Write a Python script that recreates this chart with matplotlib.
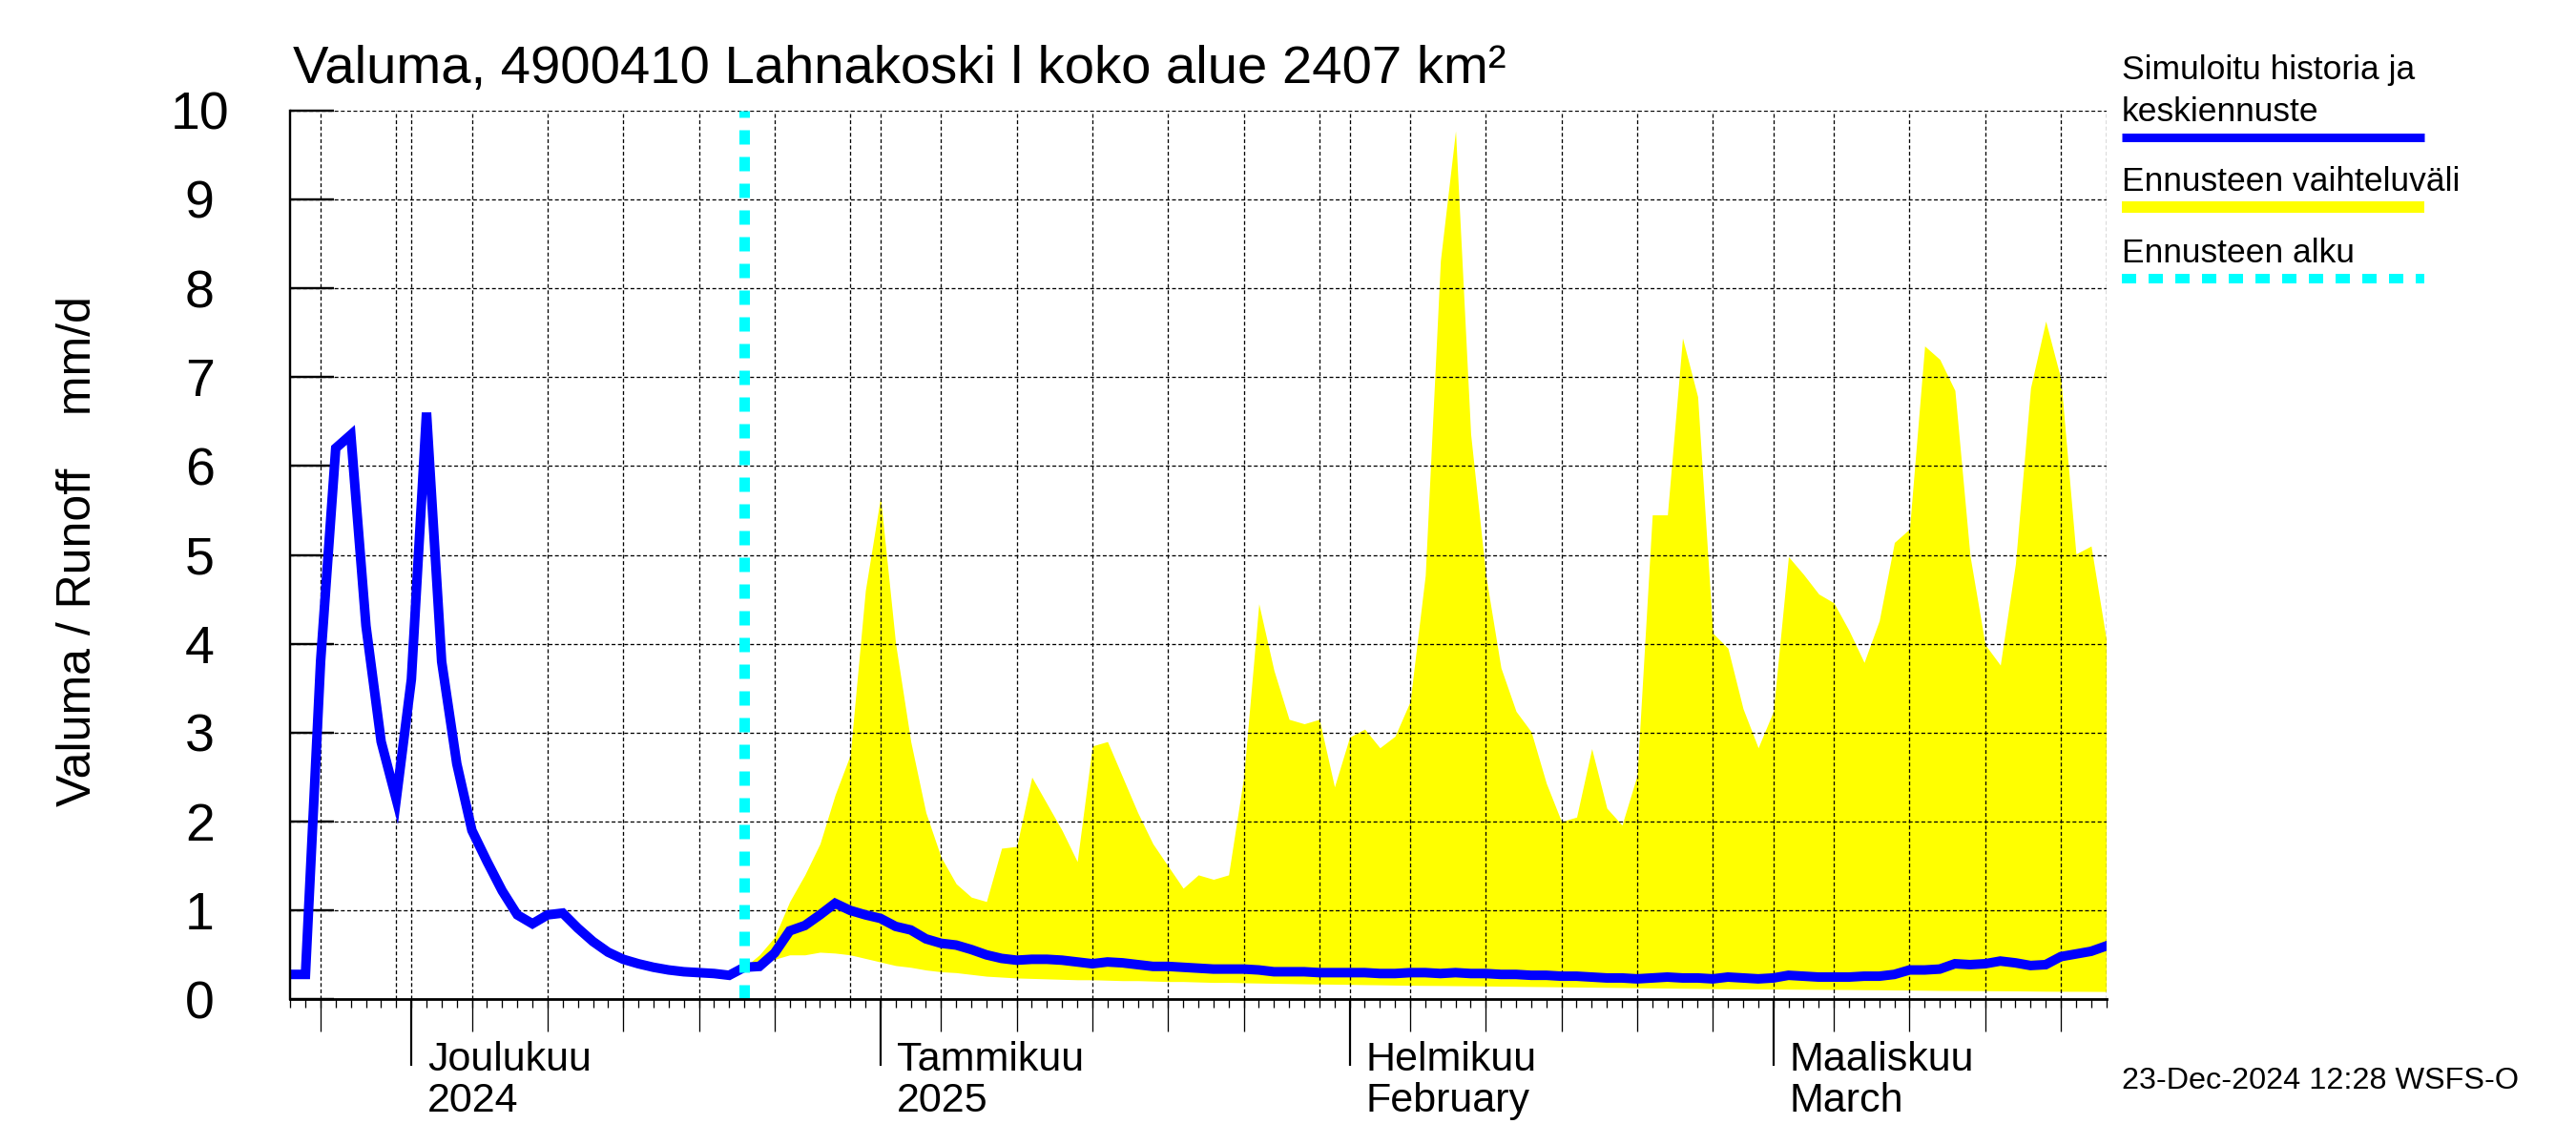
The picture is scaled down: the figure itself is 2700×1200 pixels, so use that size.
import datetime as dt
import matplotlib
matplotlib.use("Agg")
import matplotlib.pyplot as plt
import matplotlib.transforms as mtransforms
from matplotlib.lines import Line2D

plt.rcParams['font.family'] = ['Liberation Sans', 'DejaVu Sans']
plt.rcParams['lines.scale_dashes'] = False

# ---------------- data ----------------
start_date = dt.datetime(2024, 11, 23)
end_date = dt.datetime(2025, 3, 23)
forecast_start = dt.datetime(2024, 12, 23)

# simulated history + median forecast, daily from 23 Nov 2024
runoff_mean = [
    0.28, 0.28, 3.8, 6.2, 6.35, 4.2, 2.9, 2.25, 3.6, 6.6,
    3.8, 2.65, 1.9, 1.55, 1.22, 0.95, 0.85, 0.95, 0.97, 0.8,
    0.65, 0.53, 0.45, 0.40, 0.36, 0.33, 0.31, 0.30, 0.29, 0.27,
    0.36, 0.37, 0.52, 0.77, 0.83, 0.95, 1.08, 1.0, 0.95, 0.91,
    0.82, 0.78, 0.68, 0.63, 0.61, 0.56, 0.50, 0.46, 0.44, 0.45,
    0.45, 0.44, 0.42, 0.40, 0.42, 0.41, 0.39, 0.37, 0.37, 0.36,
    0.35, 0.34, 0.34, 0.34, 0.33, 0.31, 0.31, 0.31, 0.30, 0.30,
    0.30, 0.30, 0.29, 0.29, 0.30, 0.30, 0.29, 0.30, 0.29, 0.29,
    0.28, 0.28, 0.27, 0.27, 0.26, 0.26, 0.25, 0.24, 0.24, 0.23,
    0.24, 0.25, 0.24, 0.24, 0.23, 0.25, 0.24, 0.23, 0.24, 0.27,
    0.26, 0.25, 0.25, 0.25, 0.26, 0.26, 0.28, 0.33, 0.33, 0.34,
    0.40, 0.39, 0.40, 0.43, 0.41, 0.38, 0.39, 0.48, 0.51, 0.54,
    0.60,
]

# forecast range, daily from 23 Dec 2024
band_high = [
    0.36, 0.5, 0.7, 1.1, 1.4, 1.75, 2.3, 2.75, 4.6, 5.65,
    4.0, 2.9, 2.1, 1.6, 1.3, 1.15, 1.1, 1.7, 1.72, 2.5,
    2.2, 1.9, 1.55, 2.85, 2.9, 2.5, 2.1, 1.75, 1.5, 1.25,
    1.4, 1.35, 1.4, 2.5, 4.45, 3.7, 3.15, 3.1, 3.15, 2.39,
    2.95, 3.04, 2.83, 2.96, 3.35, 4.77, 8.31, 9.77, 6.36, 4.77,
    3.73, 3.24, 3.01, 2.43, 2.0, 2.05, 2.82, 2.15, 1.96, 2.52,
    5.45, 5.45, 7.44, 6.78, 4.12, 3.95, 3.27, 2.83, 3.24, 4.98,
    4.78, 4.56, 4.46, 4.15, 3.79, 4.26, 5.14, 5.29, 7.35, 7.2,
    6.85, 4.99, 3.99, 3.76, 4.9, 6.88, 7.63, 6.98, 5.01, 5.1,
    4.05,
]
band_low = [
    0.36, 0.38, 0.45, 0.50, 0.50, 0.53, 0.52, 0.50, 0.46, 0.42,
    0.38, 0.36, 0.33, 0.31, 0.30, 0.28, 0.26, 0.25, 0.24, 0.235,
    0.23, 0.225, 0.22, 0.22, 0.215, 0.21, 0.21, 0.205, 0.20, 0.20,
    0.195, 0.19, 0.19, 0.186, 0.183, 0.18, 0.177, 0.174, 0.172, 0.17,
    0.168, 0.165, 0.163, 0.16, 0.158, 0.156, 0.155, 0.153, 0.152, 0.15,
    0.148, 0.146, 0.144, 0.142, 0.14, 0.138, 0.136, 0.134, 0.132, 0.13,
    0.128, 0.126, 0.124, 0.122, 0.12, 0.118, 0.117, 0.116, 0.115, 0.114,
    0.113, 0.112, 0.111, 0.11, 0.108, 0.107, 0.105, 0.104, 0.102, 0.10,
    0.099, 0.098, 0.097, 0.096, 0.095, 0.093, 0.091, 0.09, 0.09, 0.089,
    0.088,
]

month_labels = [
    (dt.datetime(2024, 12, 1), "Joulukuu", "2024"),
    (dt.datetime(2025, 1, 1), "Tammikuu", "2025"),
    (dt.datetime(2025, 2, 1), "Helmikuu", "February"),
    (dt.datetime(2025, 3, 1), "Maaliskuu", "March"),
]
y_ticks = [0, 1, 2, 3, 4, 5, 6, 7, 8, 9, 10]

title = "Valuma, 4900410 Lahnakoski l koko alue 2407 km²"
ylabel = "Valuma / Runoff    mm/d"
legend_labels = ["Simuloitu historia ja", "keskiennuste", "Ennusteen vaihteluväli", "Ennusteen alku"]
stamp = "23-Dec-2024 12:28 WSFS-O"

# ---------------- derived dates ----------------
dates = [start_date + dt.timedelta(days=i) for i in range(len(runoff_mean))]
fc_idx = (forecast_start - start_date).days
band_dates = dates[fc_idx:fc_idx + len(band_high)]

# ---------------- figure ----------------
W, H, DPI = 2700, 1200, 100
PX = 72.0 / DPI  # points per pixel
fig = plt.figure(figsize=(W / DPI, H / DPI), dpi=DPI)
L, R, T, B = 304.3, 2207.6, 115.7, 1047.3
ax = fig.add_axes([L / W, 1 - B / H, (R - L) / W, (B - T) / H])

BLUE = "#0000FF"
YELLOW = "#FFFF00"
CYAN = "#00FFFF"
grid_kw = dict(color="black", lw=1.3 * PX, dashes=(4 * PX, 2.6 * PX))

ax.fill_between(band_dates, band_low, band_high, color=YELLOW, lw=0, zorder=1)
ax.plot(dates, runoff_mean, color=BLUE, lw=10 * PX, zorder=4, solid_joinstyle="miter")
ax.axvline(forecast_start, color=CYAN, lw=11 * PX, dashes=(15 * PX, 13 * PX), zorder=5)

ax.set_xlim(start_date, end_date)
ax.set_ylim(0, 10)

# horizontal grid
for yv in y_ticks[1:]:
    ax.axhline(yv, zorder=2.5, **grid_kw)
# vertical grid: month starts, every 5th day, and right edge
grid_dates = []
d = start_date
while d <= end_date:
    if d.day == 1 or d.day % 5 == 0:
        grid_dates.append(d)
    d += dt.timedelta(days=1)
grid_dates.append(end_date)
for gd in grid_dates:
    ax.axvline(gd, zorder=2.5, **grid_kw)

# spines
for s in ["top", "right"]:
    ax.spines[s].set_visible(False)
ax.spines["left"].set_linewidth(2.4 * PX)
ax.spines["bottom"].set_linewidth(2.8 * PX)
ax.spines["left"].set_zorder(6)
ax.spines["bottom"].set_zorder(6)

# y ticks
ax.set_yticks(y_ticks)
ax.set_yticklabels([str(v) for v in y_ticks])
ax.tick_params(axis="y", direction="in", length=46 * PX, width=2.4 * PX,
               pad=95 * PX, labelsize=40)
for lab in ax.get_yticklabels():
    lab.set_horizontalalignment("center")

# x ticks: month starts (long), every 5th day (medium), daily (short)
month_ticks = [m[0] for m in month_labels]
five_ticks = [g for g in grid_dates if g.day in (5, 10, 15, 20, 25)]
ax.set_xticks(month_ticks)
ax.set_xticks(five_ticks, minor=True)
ax.tick_params(axis="x", which="major", direction="out", length=70 * PX,
               width=2.2 * PX, labelbottom=False)
ax.tick_params(axis="x", which="minor", direction="out", length=34 * PX,
               width=1.3 * PX, labelbottom=False)
sec = ax.secondary_xaxis("bottom")
sec.set_xticks(dates)
sec.tick_params(axis="x", direction="out", length=9 * PX, width=1.3 * PX,
                labelbottom=False)
sec.spines["bottom"].set_visible(False)

# month labels
xform = mtransforms.blended_transform_factory(ax.transData, ax.transAxes)
for md, l1, l2 in month_labels:
    t1 = xform + mtransforms.ScaledTranslation(17 / DPI, -74.4 / DPI, fig.dpi_scale_trans)
    t2 = xform + mtransforms.ScaledTranslation(17 / DPI, -117.7 / DPI, fig.dpi_scale_trans)
    ax.text(md, 0, l1, transform=t1, fontsize=31, ha="left", va="baseline")
    ax.text(md, 0, l2, transform=t2, fontsize=31, ha="left", va="baseline")

# title, y label, stamp
fig.text(306.7 / W, 1 - 87 / H, title, fontsize=40.5, ha="left", va="baseline")
fig.text(82 / W, 1 - 578 / H, ylabel, fontsize=36, rotation=90, ha="center", va="center")
fig.text(2223.7 / W, 1 - 1141 / H, stamp, fontsize=23.3, ha="left", va="baseline")

# legend (manual, right of plot)
lx0, lx1 = 2223.7 / W, 2541 / W
fig.text(lx0, 1 - 83 / H, legend_labels[0], fontsize=25.5, ha="left", va="baseline")
fig.text(lx0, 1 - 126.7 / H, legend_labels[1], fontsize=25.5, ha="left", va="baseline")
fig.add_artist(Line2D([lx0, lx1], [1 - 143.5 / H] * 2, transform=fig.transFigure,
                      color=BLUE, lw=9 * PX, solid_capstyle="butt"))
fig.text(lx0, 1 - 200 / H, legend_labels[2], fontsize=25.5, ha="left", va="baseline")
fig.add_artist(Line2D([lx0, lx1], [1 - 217 / H] * 2, transform=fig.transFigure,
                      color=YELLOW, lw=12 * PX, solid_capstyle="butt"))
fig.text(lx0, 1 - 275 / H, legend_labels[3], fontsize=25.5, ha="left", va="baseline")
fig.add_artist(Line2D([lx0, lx1], [1 - 292 / H] * 2, transform=fig.transFigure,
                      color=CYAN, lw=10 * PX, dashes=(15 * PX, 13 * PX), dash_capstyle="butt"))

fig.savefig("out.png", dpi=DPI)
